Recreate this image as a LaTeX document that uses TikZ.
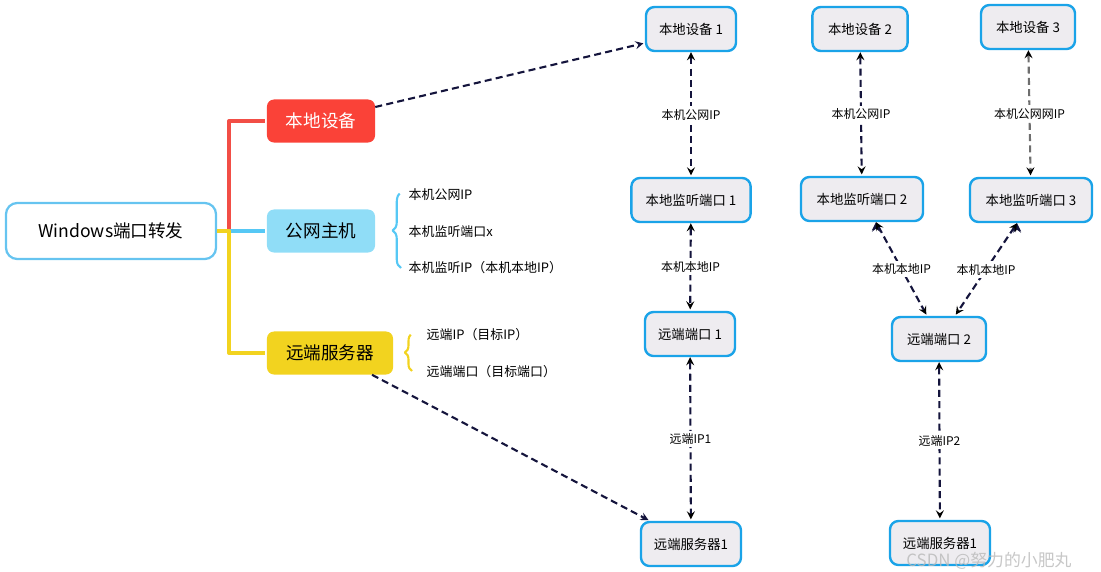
\documentclass[tikz,border=0pt]{standalone}
\usepackage{fontspec}
\setmainfont{Noto Sans CJK SC}
\usepackage{tikz}
\usetikzlibrary{arrows, positioning, decorations.pathreplacing}

\definecolor{boxblue}{RGB}{26,163,232}
\definecolor{boxgray}{RGB}{238,236,240}
\definecolor{winblue}{RGB}{102,196,240}
\definecolor{topicred}{RGB}{250,66,56}
\definecolor{topicblue}{RGB}{144,221,247}
\definecolor{topicyellow}{RGB}{242,211,31}
\definecolor{linered}{RGB}{242,78,70}
\definecolor{lineblue}{RGB}{86,200,245}
\definecolor{arrowdark}{RGB}{20,20,60}
\definecolor{arrowgray}{RGB}{110,110,110}

\begin{document}
\begin{tikzpicture}[
            x = 0.025cm, y = -0.025cm, % one unit = one pixel
            > = stealth, % arrow head style
            shorten > = 1pt,
            line join = round
        ]

        \tikzstyle{topic}=[
            rounded corners = 5pt,
            minimum width = 2.7cm,
            minimum height = 1.075cm,
            font = \fontsize{12.5}{14}\selectfont
        ]
        \tikzstyle{port}=[
            draw = boxblue,
            line width = 1.7pt,
            fill = boxgray,
            rounded corners = 6pt,
            minimum height = 1.1cm,
            font = \fontsize{9.5}{11}\selectfont
        ]
        \tikzstyle{item}=[anchor = west, inner sep = 1pt, font = \fontsize{9.2}{11}\selectfont]
        \tikzstyle{link}=[<->, dash pattern = on 5pt off 3pt, line width = 1.5pt, draw = arrowdark]
        \tikzstyle{tag}=[fill = white, inner sep = 2pt, font = \fontsize{8.5}{10}\selectfont]

        \useasboundingbox (0,0) rectangle (1101,572);

        % mind map
        \node[draw = winblue, line width = 1.6pt, rounded corners = 8pt,
              minimum width = 5.25cm, minimum height = 1.4cm,
              font = \fontsize{12.5}{14}\selectfont] (win) at (111,231) {Windows端口转发};
        \node[topic, fill = topicred, text = white] (local) at (321,121) {本地设备};
        \node[topic, fill = topicblue] (pub) at (321,231) {公网主机};
        \node[topic, fill = topicyellow, minimum width = 3.15cm] (remote) at (330,353) {远端服务器};

        \coordinate (fork) at (229,231);
        \draw[linered, line width = 2.4pt] (fork) |- (local.west);
        \draw[lineblue, line width = 2.4pt] (fork) -- (pub.west);
        \draw[topicyellow, line width = 2.4pt] (win.east) -- (fork) |- (remote.west);

        \draw[lineblue, line width = 1.5pt, decorate, decoration = {brace, amplitude = 6pt}]
            (401,268) -- (401,193);
        \node[item] (pubip) at (407,195) {本机公网IP};
        \node[item] (pubport) at (407,232) {本机监听端口x};
        \node[item] (pubhost) at (407,268) {本机监听IP（本机本地IP）};

        \draw[topicyellow, line width = 1.5pt, decorate, decoration = {brace, amplitude = 5pt}]
            (412,371) -- (412,334);
        \node[item] (remip) at (425,335) {远端IP（目标IP）};
        \node[item] (remport) at (425,372) {远端端口（目标端口）};

        % forwarding chains
        \node[port, minimum width = 2.25cm] (dev1) at (691,29) {本地设备 1};
        \node[port, minimum width = 2.98cm] (lis1) at (691,200) {本地监听端口 1};
        \node[port, minimum width = 2.25cm] (rp1) at (690,334) {远端端口 1};
        \node[port, minimum width = 2.5cm] (srv1) at (691,544) {远端服务器1};

        \node[port, minimum width = 2.38cm] (dev2) at (860,29) {本地设备 2};
        \node[port, minimum width = 3.05cm] (lis2) at (862,199) {本地监听端口 2};
        \node[port, minimum width = 2.35cm] (rp2) at (939,339) {远端端口 2};
        \node[port, minimum width = 2.5cm] (srv2) at (940,543) {远端服务器1};

        \node[port, minimum width = 2.35cm] (dev3) at (1028,27) {本地设备 3};
        \node[port, minimum width = 3.05cm] (lis3) at (1031,200) {本地监听端口 3};

        \path[link] (dev1) edge node[tag] {本机公网IP} (lis1);
        \path[link] (lis1) edge node[tag] {本机本地IP} (rp1);
        \path[link] (rp1) edge node[tag] {远端IP1} (srv1);

        \path[link] (dev2) edge node[tag] {本机公网IP} (lis2);
        \path[link, draw = arrowgray] (dev3) edge node[tag] {本机公网网IP} (lis3);
        \path[link] ([xshift = 0.35cm]lis2.south) edge node[tag] {本机本地IP} ([xshift = -0.3cm]rp2.north);
        \path[link] ([xshift = -0.35cm]lis3.south) edge node[tag] {本机本地IP} ([xshift = 0.4cm]rp2.north);
        \path[link] (rp2) edge node[tag] {远端IP2} (srv2);

        \draw[->, dash pattern = on 5pt off 3pt, line width = 1.5pt, arrowdark]
            ([yshift = 0.35cm]local.east) -- ([yshift = -0.35cm]dev1.west);
        \draw[->, dash pattern = on 5pt off 3pt, line width = 1.5pt, arrowdark]
            ([xshift = 1.05cm]remote.south) -- ([xshift = 0.25cm]srv1.north west);

        \node[text = gray!55, opacity = 0.8, font = \fontsize{12}{14}\selectfont] (mark) at (989,561) {CSDN @努力的小肥丸};

  \end{tikzpicture}
\end{document}
